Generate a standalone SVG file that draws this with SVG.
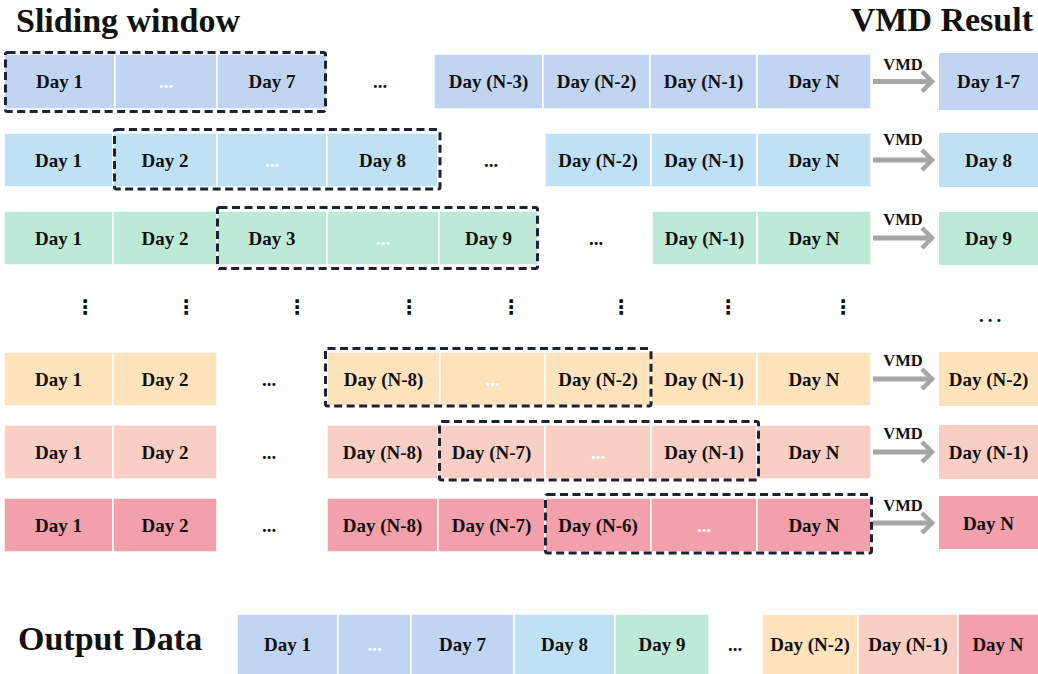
<svg xmlns="http://www.w3.org/2000/svg" width="1038" height="674" viewBox="0 0 1038 674">
<style>
.c{stroke:#fff;stroke-width:1.5}
.b1{fill:#C1D5F2}.b2{fill:#BEE2F4}.g{fill:#BCEAD6}.o{fill:#FEE3BD}.s{fill:#F9CEC5}.p{fill:#F2A0AB}
text{font-family:"Liberation Serif","Times New Roman",serif;font-weight:bold;fill:#111}
.t{font-size:19px;text-anchor:middle}
.w{fill:#fff}
.h{font-size:34px}
.vmd{font-size:16.5px;text-anchor:middle}
.vd{font-family:"DejaVu Sans",sans-serif;font-size:20px;text-anchor:middle;font-weight:bold}
.dash{fill:none;stroke:#1D2331;stroke-width:3;stroke-dasharray:8 4.5}
.arr{stroke:#A6A6A6;stroke-width:5;fill:none}
</style>
<defs>
<marker id="ah" markerWidth="16" markerHeight="26" refX="12" refY="13" orient="auto" markerUnits="userSpaceOnUse">
<path d="M2,3 L12,13 L2,23" fill="none" stroke="#A6A6A6" stroke-width="4.5"/>
</marker>
</defs>

<text x="16" y="32" class="h">Sliding window</text>
<text x="1033" y="31" class="h" text-anchor="end">VMD Result</text>

<!-- Row 1 -->
<g id="row1">
<g id="r1c0"><rect class="c b1" x="4" y="54" width="111" height="55"/><text class="t" x="59.5" y="88">Day 1</text></g>
<g id="r1c1"><rect class="c b1" x="115" y="54" width="102" height="55"/><text class="t w" x="166" y="88">...</text></g>
<g id="r1c2"><rect class="c b1" x="217" y="54" width="110" height="55"/><text class="t" x="272" y="88">Day 7</text></g>
<text class="t" x="380" y="88">...</text>
<g id="r1c4"><rect class="c b1" x="434" y="54" width="109" height="55"/><text class="t" x="488.5" y="88">Day (N-3)</text></g>
<g id="r1c5"><rect class="c b1" x="543" y="54" width="107" height="55"/><text class="t" x="596.5" y="88">Day (N-2)</text></g>
<g id="r1c6"><rect class="c b1" x="650" y="54" width="107" height="55"/><text class="t" x="703.5" y="88">Day (N-1)</text></g>
<g id="r1c7"><rect class="c b1" x="757" y="54" width="114" height="55"/><text class="t" x="814" y="88">Day N</text></g>
<rect class="dash" x="5.5" y="52.5" width="320" height="59" rx="2"/>
</g>
<g id="res1"><rect class="b1" x="939" y="53" width="99" height="57"/><text class="t" x="988.5" y="88">Day 1-7</text></g>

<!-- Row 2 -->
<g id="row2">
<g id="r2c0"><rect class="c b2" x="4" y="133" width="109" height="54"/><text class="t" x="58.5" y="166.5">Day 1</text></g>
<g id="r2c1"><rect class="c b2" x="113" y="133" width="104" height="54"/><text class="t" x="165" y="166.5">Day 2</text></g>
<g id="r2c2"><rect class="c b2" x="217" y="133" width="110" height="54"/><text class="t w" x="272" y="166.5">...</text></g>
<g id="r2c3"><rect class="c b2" x="327" y="133" width="111" height="54"/><text class="t" x="382.5" y="166.5">Day 8</text></g>
<text class="t" x="491" y="166.5">...</text>
<g id="r2c5"><rect class="c b2" x="545" y="133" width="106" height="54"/><text class="t" x="598" y="166.5">Day (N-2)</text></g>
<g id="r2c6"><rect class="c b2" x="651" y="133" width="106" height="54"/><text class="t" x="704" y="166.5">Day (N-1)</text></g>
<g id="r2c7"><rect class="c b2" x="757" y="133" width="114" height="54"/><text class="t" x="814" y="166.5">Day N</text></g>
<rect class="dash" x="114.5" y="129.5" width="325.5" height="59.5" rx="2"/>
</g>
<g id="res2"><rect class="b2" x="939" y="133" width="99" height="54"/><text class="t" x="988.5" y="166.5">Day 8</text></g>

<!-- Row 3 -->
<g id="row3">
<g id="r3c0"><rect class="c g" x="4" y="211" width="109" height="54"/><text class="t" x="58.5" y="244.5">Day 1</text></g>
<g id="r3c1"><rect class="c g" x="113" y="211" width="104" height="54"/><text class="t" x="165" y="244.5">Day 2</text></g>
<g id="r3c2"><rect class="c g" x="217" y="211" width="110" height="54"/><text class="t" x="272" y="244.5">Day 3</text></g>
<g id="r3c3"><rect class="c g" x="327" y="211" width="112" height="54"/><text class="t w" x="383" y="244.5">...</text></g>
<g id="r3c4"><rect class="c g" x="439" y="211" width="99" height="54"/><text class="t" x="488.5" y="244.5">Day 9</text></g>
<text class="t" x="596" y="244.5">...</text>
<g id="r3c6"><rect class="c g" x="652" y="211" width="105" height="54"/><text class="t" x="704.5" y="244.5">Day (N-1)</text></g>
<g id="r3c7"><rect class="c g" x="757" y="211" width="114" height="54"/><text class="t" x="814" y="244.5">Day N</text></g>
<rect class="dash" x="217.5" y="207.5" width="320" height="61" rx="2"/>
</g>
<g id="res3"><rect class="g" x="939" y="212" width="99" height="53"/><text class="t" x="988.5" y="244.5">Day 9</text></g>

<!-- Ellipsis row -->
<g id="ellipsis">
<text class="vd" x="85" y="314">⋮</text>
<text class="vd" x="186" y="314">⋮</text>
<text class="vd" x="297" y="314">⋮</text>
<text class="vd" x="409" y="314">⋮</text>
<text class="vd" x="511" y="314">⋮</text>
<text class="vd" x="621" y="314">⋮</text>
<text class="vd" x="728" y="314">⋮</text>
<text class="vd" x="843" y="314">⋮</text>
<text class="t" x="992" y="322" style="letter-spacing:4px">...</text>
</g>

<!-- Row 5 -->
<g id="row5">
<g id="r5c0"><rect class="c o" x="4" y="352" width="109" height="54"/><text class="t" x="58.5" y="385.5">Day 1</text></g>
<g id="r5c1"><rect class="c o" x="113" y="352" width="104" height="54"/><text class="t" x="165" y="385.5">Day 2</text></g>
<text class="t" x="269" y="385.5">...</text>
<g id="r5c3"><rect class="c o" x="327" y="352" width="113" height="54"/><text class="t" x="383.5" y="385.5">Day (N-8)</text></g>
<g id="r5c4"><rect class="c o" x="440" y="352" width="105" height="54"/><text class="t w" x="492.5" y="385.5">...</text></g>
<g id="r5c5"><rect class="c o" x="545" y="352" width="106" height="54"/><text class="t" x="598" y="385.5">Day (N-2)</text></g>
<g id="r5c6"><rect class="c o" x="651" y="352" width="106" height="54"/><text class="t" x="704" y="385.5">Day (N-1)</text></g>
<g id="r5c7"><rect class="c o" x="757" y="352" width="114" height="54"/><text class="t" x="814" y="385.5">Day N</text></g>
<rect class="dash" x="325.5" y="348.5" width="325.5" height="57.5" rx="2"/>
</g>
<g id="res5"><rect class="o" x="939" y="352" width="99" height="54"/><text class="t" x="988.5" y="385.5">Day (N-2)</text></g>

<!-- Row 6 -->
<g id="row6">
<g id="r6c0"><rect class="c s" x="4" y="425" width="109" height="54"/><text class="t" x="58.5" y="458.5">Day 1</text></g>
<g id="r6c1"><rect class="c s" x="113" y="425" width="104" height="54"/><text class="t" x="165" y="458.5">Day 2</text></g>
<text class="t" x="269" y="458.5">...</text>
<g id="r6c3"><rect class="c s" x="327" y="425" width="111" height="54"/><text class="t" x="382.5" y="458.5">Day (N-8)</text></g>
<g id="r6c4"><rect class="c s" x="438" y="425" width="107" height="54"/><text class="t" x="491.5" y="458.5">Day (N-7)</text></g>
<g id="r6c5"><rect class="c s" x="545" y="425" width="106" height="54"/><text class="t w" x="598" y="458.5">...</text></g>
<g id="r6c6"><rect class="c s" x="651" y="425" width="106" height="54"/><text class="t" x="704" y="458.5">Day (N-1)</text></g>
<g id="r6c7"><rect class="c s" x="757" y="425" width="114" height="54"/><text class="t" x="814" y="458.5">Day N</text></g>
<rect class="dash" x="439.5" y="421.5" width="319" height="58.5" rx="2"/>
</g>
<g id="res6"><rect class="s" x="939" y="425" width="99" height="54"/><text class="t" x="988.5" y="458.5">Day (N-1)</text></g>

<!-- Row 7 -->
<g id="row7">
<g id="r7c0"><rect class="c p" x="4" y="498" width="109" height="54"/><text class="t" x="58.5" y="531.5">Day 1</text></g>
<g id="r7c1"><rect class="c p" x="113" y="498" width="104" height="54"/><text class="t" x="165" y="531.5">Day 2</text></g>
<text class="t" x="269" y="531.5">...</text>
<g id="r7c3"><rect class="c p" x="327" y="498" width="111" height="54"/><text class="t" x="382.5" y="531.5">Day (N-8)</text></g>
<g id="r7c4"><rect class="c p" x="438" y="498" width="107" height="54"/><text class="t" x="491.5" y="531.5">Day (N-7)</text></g>
<g id="r7c5"><rect class="c p" x="545" y="498" width="106" height="54"/><text class="t" x="598" y="531.5">Day (N-6)</text></g>
<g id="r7c6"><rect class="c p" x="651" y="498" width="106" height="54"/><text class="t w" x="704" y="531.5">...</text></g>
<g id="r7c7"><rect class="c p" x="757" y="498" width="114" height="54"/><text class="t" x="814" y="531.5">Day N</text></g>
<rect class="dash" x="545.5" y="494.5" width="326" height="58.5" rx="2"/>
</g>
<g id="res7"><rect class="p" x="939" y="496" width="99" height="53"/><text class="t" x="988.5" y="529.5">Day N</text></g>

<!-- Connectors -->
<g id="connectors">
<line class="arr" x1="873" y1="81.5" x2="932" y2="81.5" marker-end="url(#ah)"/>
<text class="vmd" x="903" y="70">VMD</text>
<line class="arr" x1="873" y1="160" x2="932" y2="160" marker-end="url(#ah)"/>
<text class="vmd" x="903" y="145">VMD</text>
<line class="arr" x1="873" y1="238" x2="932" y2="238" marker-end="url(#ah)"/>
<text class="vmd" x="903" y="225">VMD</text>
<line class="arr" x1="873" y1="379" x2="932" y2="379" marker-end="url(#ah)"/>
<text class="vmd" x="903" y="366">VMD</text>
<line class="arr" x1="873" y1="452" x2="932" y2="452" marker-end="url(#ah)"/>
<text class="vmd" x="903" y="439">VMD</text>
<line class="arr" x1="873" y1="523" x2="932" y2="523" marker-end="url(#ah)"/>
<text class="vmd" x="903" y="511">VMD</text>
</g>

<!-- Output -->
<text x="18" y="650" class="h">Output Data</text>
<g id="output">
<g id="o1"><rect class="c b1" x="237" y="614" width="101" height="62"/><text class="t" x="287.5" y="651">Day 1</text></g>
<g id="o2"><rect class="c b1" x="338" y="614" width="73" height="62"/><text class="t w" x="374.5" y="651">...</text></g>
<g id="o3"><rect class="c b1" x="411" y="614" width="103" height="62"/><text class="t" x="462.5" y="651">Day 7</text></g>
<g id="o4"><rect class="c b2" x="514" y="614" width="101" height="62"/><text class="t" x="564.5" y="651">Day 8</text></g>
<g id="o5"><rect class="c g" x="615" y="614" width="94" height="62"/><text class="t" x="662" y="651">Day 9</text></g>
<text class="t" x="735" y="651">...</text>
<g id="o6"><rect class="c o" x="762" y="614" width="96" height="62"/><text class="t" x="810" y="651">Day (N-2)</text></g>
<g id="o7"><rect class="c s" x="858" y="614" width="100" height="62"/><text class="t" x="908" y="651">Day (N-1)</text></g>
<g id="o8"><rect class="c p" x="958" y="614" width="82" height="62"/><text class="t" x="998" y="651">Day N</text></g>
</g>
</svg>
